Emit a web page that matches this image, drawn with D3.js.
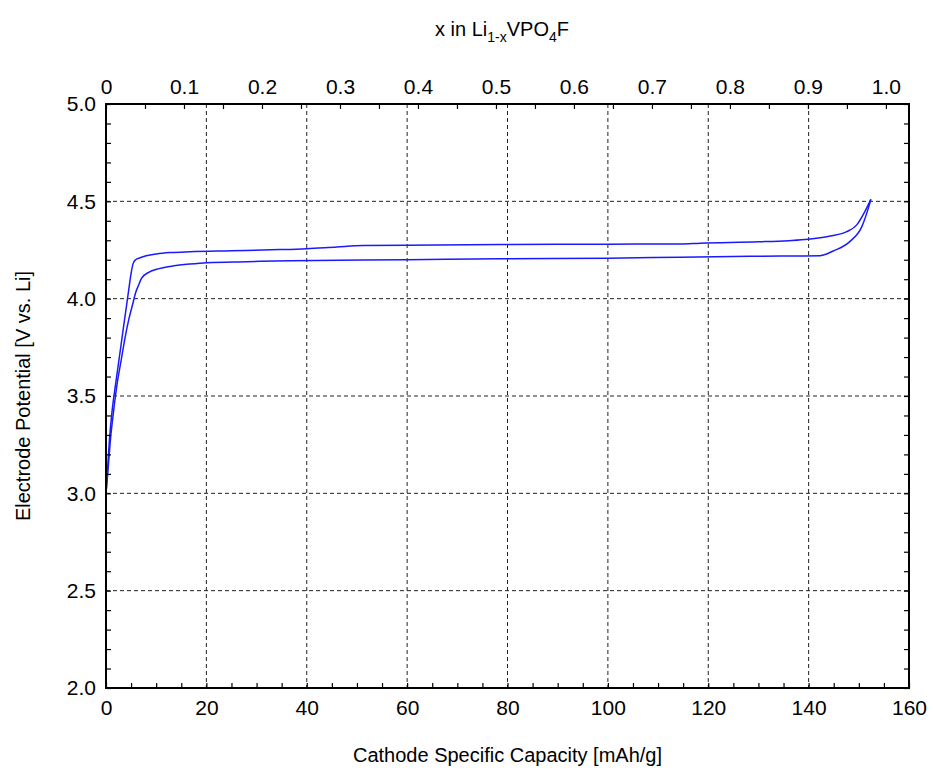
<!DOCTYPE html>
<html>
<head>
<meta charset="utf-8">
<script src="https://cdn.jsdelivr.net/npm/d3@7"></script>
<style>
body { margin: 0; background: #fff; }
text { font-family: "Liberation Sans", Arial, sans-serif; fill: #000; }
.grid line { stroke: #222; stroke-width: 1; stroke-dasharray: 4,3; }
</style>
</head>
<body>
<svg width="933" height="770"></svg>
<script>
// charge curve (upper), capacity mAh/g vs potential V
var chargeCap = [0, 0.3, 0.7, 1.2, 1.8, 2.5, 3.2, 3.9, 4.5, 5.0, 5.4, 5.9, 6.8, 8, 10.1, 13, 16.7, 25, 34.7, 40, 46, 51.3, 60, 78.5, 100, 114.4, 118.4, 130, 136, 139.9, 144.3, 147.6, 149.6, 151.2, 152.4];
var chargeV   = [3.0, 3.12, 3.28, 3.42, 3.54, 3.67, 3.8, 3.93, 4.04, 4.13, 4.18, 4.2, 4.21, 4.22, 4.23, 4.237, 4.241, 4.246, 4.252, 4.257, 4.266, 4.273, 4.275, 4.278, 4.28, 4.281, 4.285, 4.292, 4.298, 4.305, 4.322, 4.344, 4.379, 4.447, 4.51];
// discharge curve (lower)
var dischargeCap = [0, 0.4, 0.9, 1.5, 2.2, 3.0, 3.8, 4.6, 5.3, 5.9, 6.5, 7.1, 8.5, 10.1, 13, 16.7, 20.1, 28, 36.7, 60, 78.5, 100, 114.4, 130, 142.3, 144.9, 148.2, 150.6, 151.9, 152.4];
var dischargeV   = [3.0, 3.12, 3.28, 3.42, 3.56, 3.68, 3.8, 3.9, 3.97, 4.03, 4.07, 4.105, 4.135, 4.151, 4.167, 4.178, 4.185, 4.19, 4.195, 4.2, 4.205, 4.208, 4.213, 4.218, 4.221, 4.245, 4.293, 4.37, 4.465, 4.51];

var capTicks = [0, 20, 40, 60, 80, 100, 120, 140, 160];
var vTicks = [2.0, 2.5, 3.0, 3.5, 4.0, 4.5, 5.0];
var xTicks = [0, 0.1, 0.2, 0.3, 0.4, 0.5, 0.6, 0.7, 0.8, 0.9, 1.0];
var fullCap = 155.4; // capacity at x = 1

var svg = d3.select("svg");
var pL = 106, pR = 909, pT = 104, pB = 688;

var x = d3.scaleLinear().domain([0, 160]).range([pL, pR]);
var y = d3.scaleLinear().domain([2, 5]).range([pB, pT]);
var xTop = d3.scaleLinear().domain([0, 1]).range([x(0), x(fullCap)]);

// grid
var grid = svg.append("g").attr("class", "grid");
grid.selectAll(".gx").data(capTicks.slice(1, -1)).enter().append("line")
	.attr("x1", function(d) { return x(d); }).attr("x2", function(d) { return x(d); })
	.attr("y1", pT).attr("y2", pB);
grid.selectAll(".gy").data(vTicks.slice(1, -1)).enter().append("line")
	.attr("x1", pL).attr("x2", pR)
	.attr("y1", function(d) { return y(d); }).attr("y2", function(d) { return y(d); });

// curves
var line = d3.line().curve(d3.curveMonotoneX);
[[chargeCap, chargeV], [dischargeCap, dischargeV]].forEach(function(s) {
	svg.append("path")
		.attr("d", line(s[0].map(function(c, i) { return [x(c), y(s[1][i])]; })))
		.attr("fill", "none")
		.attr("stroke", "#1a1aff")
		.attr("stroke-width", 1.5);
});

// axes with inward ticks
function styleAxis(g) {
	g.select(".domain").remove();
	g.selectAll(".tick line").attr("stroke", "#000").attr("stroke-width", 1.2);
	g.selectAll("text").attr("font-size", 21);
}
var vMinor = d3.range(20, 51, 1).map(function(d) { return d / 10; });
svg.append("g").attr("transform", "translate(0," + pB + ")")
	.call(d3.axisBottom(x).tickValues(d3.range(0, 161, 5)).tickSize(-5).tickPadding(12)
		.tickFormat(function(d) { return d % 20 === 0 ? d : ""; }))
	.call(styleAxis);
svg.append("g").attr("transform", "translate(" + pL + ",0)")
	.call(d3.axisLeft(y).tickValues(vMinor).tickSize(-5).tickPadding(10)
		.tickFormat(function(d) { return Math.round(d * 10) % 5 === 0 ? d3.format(".1f")(d) : ""; }))
	.call(styleAxis);
svg.append("g").attr("transform", "translate(" + pR + ",0)")
	.call(d3.axisRight(y).tickValues(vMinor).tickSize(-5).tickFormat(""))
	.call(styleAxis);
svg.append("g").attr("transform", "translate(0," + pT + ")")
	.call(d3.axisTop(xTop).tickValues(d3.range(0, 21, 1).map(function(d) { return d / 20; })).tickSize(-5).tickPadding(10)
		.tickFormat(function(d) {
			var k = Math.round(d * 20);
			if (k % 2) return "";
			return k === 0 ? "0" : d3.format(".1f")(d);
		}))
	.call(styleAxis);

// frame
svg.append("rect").attr("x", pL).attr("y", pT)
	.attr("width", pR - pL).attr("height", pB - pT)
	.attr("fill", "none").attr("stroke", "#000").attr("stroke-width", 2);

// titles
svg.append("text").attr("x", (pL + pR) / 2).attr("y", 762)
	.attr("text-anchor", "middle").attr("font-size", 20)
	.text("Cathode Specific Capacity [mAh/g]");

svg.append("text").attr("transform", "translate(30," + (pT + pB) / 2 + ") rotate(-90)")
	.attr("text-anchor", "middle").attr("font-size", 20)
	.text("Electrode Potential [V vs. Li]");

var t = svg.append("text").attr("x", 502).attr("y", 36)
	.attr("text-anchor", "middle").attr("font-size", 20);
t.append("tspan").text("x in Li");
t.append("tspan").attr("font-size", 14).attr("dy", 6).text("1-x");
t.append("tspan").attr("dy", -6).text("VPO");
t.append("tspan").attr("font-size", 14).attr("dy", 6).text("4");
t.append("tspan").attr("dy", -6).text("F");
</script>
</body>
</html>
